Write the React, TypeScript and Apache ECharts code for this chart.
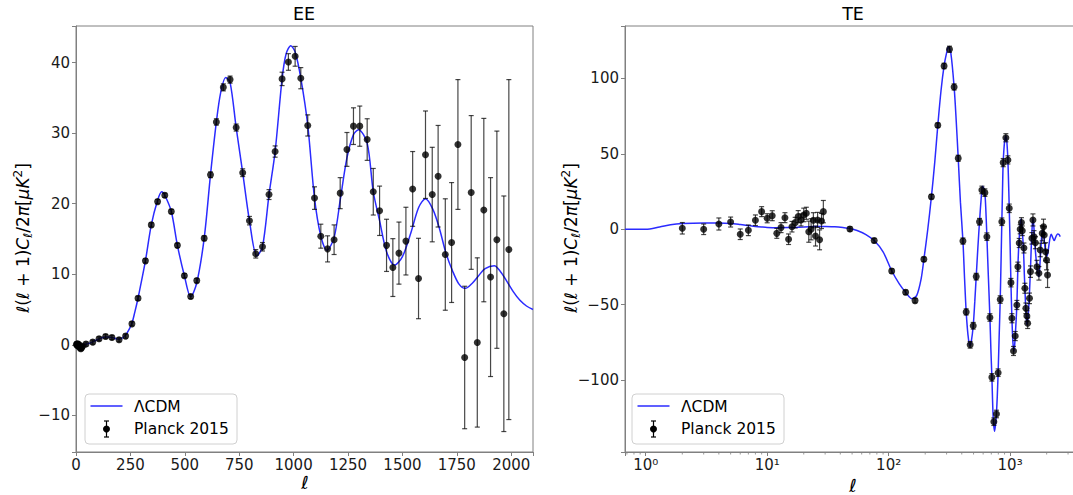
import { useEffect, useRef } from 'react';
import * as echarts from 'echarts';

const FONT = 'DejaVu Sans';
const AX = '#808080';
const CURVE = '#2b2bff';
const BAR = 'rgba(0,0,0,0.72)';

// ---------- EE panel ----------
const eeXMin = 0;
const eeXMax = 2100;
const eeXInterval = 250;
const eeYMin = -15.2;
const eeYMax = 45.2;

const eeCurveL = [2, 20, 50, 80, 110, 140, 165, 195, 215, 235, 256, 270, 285, 300, 319, 346, 375, 394, 408, 438, 466, 498, 527, 555, 589, 618, 645, 665, 688, 708, 736, 766, 797, 831, 857, 887, 915, 947, 965, 987, 1007, 1033, 1065, 1096, 1125, 1153, 1186, 1214, 1245, 1275, 1298, 1338, 1366, 1395, 1427, 1464, 1500, 1540, 1575, 1606, 1640, 1670, 1700, 1730, 1760, 1789, 1820, 1850, 1880, 1922, 1950, 1980, 2010, 2040, 2070, 2100];
const eeCurveV = [0.05, 0.02, 0.1, 0.45, 0.9, 1.1, 1.05, 0.8, 1.0, 1.7, 2.97, 4.6, 6.6, 8.9, 11.9, 17.0, 20.5, 21.7, 21.2, 18.9, 14.1, 9.8, 6.8, 8.8, 15.1, 24.1, 31.6, 35.8, 37.9, 37.2, 30.8, 24.4, 17.6, 12.6, 13.9, 21.3, 27.4, 37.7, 41.2, 42.4, 41.5, 37.8, 31.1, 20.8, 15.4, 13.4, 15.2, 20.5, 26.5, 29.8, 30.5, 28.6, 21.7, 17.6, 13.2, 11.3, 12.5, 16.0, 19.5, 20.7, 19.2, 16.5, 13.0, 10.5, 8.6, 8.0, 8.7, 9.8, 10.8, 11.2, 10.4, 9.0, 7.5, 6.3, 5.5, 5.0];

const eeDataL = [2, 4, 6, 8, 11, 14, 18, 22, 26, 30, 46, 77, 106, 136, 165, 198, 228, 257, 285, 319, 346, 375, 408, 438, 466, 498, 527, 555, 589, 618, 645, 677, 708, 736, 766, 797, 826, 857, 887, 915, 947, 976, 1007, 1033, 1065, 1096, 1125, 1156, 1186, 1214, 1245, 1275, 1304, 1338, 1366, 1395, 1427, 1456, 1484, 1516, 1547, 1574, 1606, 1637, 1664, 1697, 1726, 1755, 1786, 1816, 1844, 1874, 1905, 1934, 1966, 1989];
const eeDataV = [0.05, 0.1, -0.1, 0.15, -0.2, 0.0, -0.4, -0.55, -0.4, -0.2, 0.1, 0.38, 0.85, 1.18, 1.04, 0.71, 1.23, 2.97, 6.6, 11.9, 17.0, 20.3, 21.2, 18.9, 14.1, 9.8, 6.85, 9.1, 15.1, 24.1, 31.6, 36.5, 37.6, 30.8, 24.4, 17.6, 12.9, 13.9, 21.3, 27.4, 37.7, 40.1, 40.9, 37.8, 31.1, 20.8, 15.4, 13.6, 14.9, 21.5, 27.7, 31.0, 31.0, 29.1, 21.7, 19.0, 14.1, 10.95, 13.0, 14.7, 22.1, 9.4, 26.95, 21.3, 23.9, 12.8, 14.5, 28.4, -1.8, 21.6, 0.33, 19.1, 9.6, 14.9, 4.4, 13.5];
const eeDataErr = [0.3, 0.3, 0.3, 0.3, 0.3, 0.3, 0.3, 0.3, 0.3, 0.3, 0.3, 0.3, 0.3, 0.3, 0.3, 0.3, 0.3, 0.3, 0.3, 0.3, 0.3, 0.3, 0.3, 0.3, 0.3, 0.3, 0.3, 0.3, 0.35, 0.4, 0.45, 0.5, 0.5, 0.5, 0.55, 0.6, 0.6, 0.6, 0.7, 0.8, 0.95, 1.18, 1.4, 1.5, 1.5, 1.6, 1.7, 1.85, 2.1, 2.2, 2.4, 2.6, 2.85, 2.95, 3.3, 3.5, 3.7, 4.1, 4.4, 4.8, 5.3, 5.7, 6.2, 6.7, 7.2, 7.9, 8.5, 9.2, 10.1, 10.9, 12.0, 13.0, 14.1, 15.4, 16.7, 24.1];

// ---------- TE panel ----------
const teXMin = 0.675;
const teXMax = 3835;
const teYMin = -147.7;
const teYMax = 134.8;
const teMajorExp = ['⁰', '¹', '²', '³'];
const teMinorTicks = [0.7, 0.8, 0.9, 2, 3, 4, 5, 6, 7, 8, 9, 20, 30, 40, 50, 60, 70, 80, 90, 200, 300, 400, 500, 600, 700, 800, 900, 2000, 3000];

const teCurveL = [0.675, 1, 1.3, 1.6, 2, 3, 4, 5, 6, 7, 8, 9, 10, 12, 15, 20, 25, 30, 36, 42, 48, 55, 65, 76, 90, 106, 122, 138, 155, 170, 185, 195, 210, 225, 240, 254, 270, 286, 300, 311, 325, 346, 360, 374, 390, 409, 422, 435, 450, 466, 480, 497, 512, 526, 543, 560, 575, 593, 607, 620, 632, 644, 662, 682, 695, 708, 725, 744, 760, 772, 785, 797, 812, 829, 842, 855, 866, 877, 900, 923, 940, 959, 972, 984, 1000, 1016, 1035, 1055, 1075, 1090, 1102, 1120, 1137, 1159, 1175, 1195, 1215, 1232, 1250, 1270, 1290, 1310, 1324, 1349, 1375, 1400, 1425, 1444, 1472, 1490, 1512, 1540, 1565, 1600, 1630, 1663, 1700, 1727, 1750, 1770, 1800, 1830, 1860, 1890, 1920, 1958, 2010, 2050, 2100, 2140, 2181, 2230, 2309, 2380, 2460, 2530, 2587];
const teCurveV = [0, 0, 1.5, 3.0, 3.8, 4.2, 4.2, 3.9, 3.2, 2.5, 1.9, 1.5, 1.2, 1.0, 1.1, 1.5, 1.8, 1.9, 1.6, 1.1, 0.5, -0.8, -3.5, -7.5, -15, -27.5, -36, -41.8, -46, -44, -33, -20, 0, 21.6, 45, 69, 92, 108.3, 117, 121, 117, 94.4, 72, 47.1, 18, -7.8, -33, -54.8, -70, -77.5, -74, -64, -48, -31.4, -12, 5, 18, 28.5, 27, 24, 12, -5, -31, -58.6, -80, -98, -124, -134, -129, -122, -110, -95, -72, -47, -22, 5, 26, 44, 58, 62, 58, 46, 30, 14, -10, -35.4, -59, -75, -81, -77, -71, -61, -50, -25, -13, -3, 4, 6.8, 3, -5, -14, -30, -39, -55, -63.5, -60, -51, -42, -26, -14, -2, 7.3, 3, -10, -18, -25, -30, -31.4, -27, -20, -10, -3, -0.5, -3, -9, -15, -18, -15, -9, -5, -3.3, -5, -7.5, -5, -3.1, -3.5, -4.9];

const teDataL = [2, 3, 4, 5, 6, 7, 8, 9, 10, 11, 12, 13, 14, 15, 16, 17, 18, 19, 20, 21, 22, 23, 24, 25, 26, 27, 28, 29, 48, 76, 106, 138, 165, 195, 225, 254, 286, 317, 346, 374, 409, 435, 469, 497, 526, 560, 586, 620, 644, 682, 708, 735, 772, 797, 829, 855, 877, 923, 959, 984, 1016, 1035, 1067, 1102, 1137, 1159, 1189, 1211, 1240, 1260, 1300, 1324, 1349, 1375, 1395, 1444, 1472, 1512, 1542, 1573, 1615, 1663, 1727, 1770, 1838, 1884, 1910, 1958, 1996, 2034];
const teDataV = [0.66, 0.0, 3.5, 4.8, -3.3, -0.7, 6.0, 11.7, 7.3, 9.0, -2.7, 1.1, 7.7, -6.6, 1.7, 4.4, 8.4, 6.2, 9.5, 10.6, -1.6, 0.0, 6.0, -4.5, 6.2, -7.0, 5.5, 11.7, 0.2, -7.5, -27.7, -41.8, -47.3, -19.9, 21.6, 69.0, 108.3, 119.4, 94.4, 47.1, -7.8, -54.8, -76.6, -64.0, -31.4, 5.0, 26.1, 24.3, -4.9, -58.5, -98.2, -127.6, -122.5, -95.1, -46.6, 5.0, 44.2, 60.7, 46.0, 13.9, -35.4, -59.0, -80.7, -70.8, -50.2, -24.8, -9.1, 0.0, 4.5, -1.0, -12.4, -39.1, -52.4, -57.5, -62.3, -45.8, -28.1, -6.0, 6.2, -4.9, -8.9, -24.8, -29.2, -13.7, -2.7, 1.7, -3.8, -14.9, -20.4, -30.3];
const teDataErr = [3.8, 3.5, 4.0, 3.3, 3.5, 3.5, 3.5, 3.3, 3.0, 3.3, 3.3, 3.3, 3.3, 3.5, 3.5, 3.5, 4.0, 4.0, 4.5, 4.0, 7.0, 7.0, 5.0, 6.6, 5.0, 6.6, 5.0, 7.4, 1.5, 1.5, 1.5, 1.5, 1.5, 1.5, 1.5, 1.5, 1.8, 2.0, 2.0, 2.0, 2.0, 2.0, 2.2, 2.2, 2.2, 2.2, 2.5, 2.5, 2.5, 2.5, 2.5, 2.5, 2.5, 2.5, 2.5, 2.5, 2.7, 2.7, 2.7, 2.8, 2.8, 3.0, 3.0, 3.0, 3.0, 3.0, 3.0, 3.0, 3.2, 3.2, 3.3, 3.3, 3.5, 3.5, 3.5, 3.5, 3.8, 3.8, 4.0, 4.0, 4.0, 4.2, 4.5, 4.5, 5.0, 5.0, 5.5, 6.0, 6.5, 8.3];

const zip = (a: number[], b: number[]) => a.map((x, i) => [x, b[i]]);
const zip3 = (a: number[], b: number[], c: number[]) => a.map((x, i) => [x, b[i], c[i]]);

const errorBarRender = (_p: any, api: any) => {
  const x = api.value(0);
  const v = api.value(1);
  const e = api.value(2);
  const t = api.coord([x, v + e]);
  const b = api.coord([x, v - e]);
  const c = 2.5;
  const st = { stroke: BAR, lineWidth: 1.2 };
  return {
    type: 'group',
    children: [
      { type: 'line', shape: { x1: t[0], y1: t[1], x2: b[0], y2: b[1] }, style: st },
      { type: 'line', shape: { x1: t[0] - c, y1: t[1], x2: t[0] + c, y2: t[1] }, style: st },
      { type: 'line', shape: { x1: b[0] - c, y1: b[1], x2: b[0] + c, y2: b[1] }, style: st },
    ],
  };
};

const minus = (v: number) => (v < 0 ? '\u2212' + Math.abs(v) : String(v));
const isMult = (v: number, m: number) => Math.abs(v / m - Math.round(v / m)) < 1e-6;

const tickLabel = { color: '#1a1a1a', fontSize: 15, fontFamily: FONT, margin: 6 };
const xTickLabel = { ...tickLabel, lineHeight: 15, margin: 5 };
const axisCommon = {
  axisLine: { show: true, onZero: false, lineStyle: { color: AX, width: 1 } },
  axisTick: { show: true, length: 4, lineStyle: { color: AX, width: 1 } },
  splitLine: { show: false },
};

const ylabelRich = {
  i: { fontFamily: FONT, fontStyle: 'italic', fontSize: 17, lineHeight: 22, fill: '#000' },
  n: { fontFamily: FONT, fontSize: 17, lineHeight: 22, fill: '#000' },
  s: { fontFamily: FONT, fontStyle: 'italic', fontSize: 12, lineHeight: 12, verticalAlign: 'bottom', fill: '#000' },
  p: { fontFamily: FONT, fontSize: 12, lineHeight: 12, verticalAlign: 'top', fill: '#000' },
};
const ylabelText = '{i|ℓ}{n|(}{i|ℓ}{n| + 1)}{i|C}{s|ℓ}{n|/2}{i|π}{n|[}{i|μK}{p|2}{n|]}';

const legend = (left: number, top: number) => {
  const lx = left + 5.5;
  const mx = lx + 16;
  const tx = left + 49;
  const st = { stroke: '#000', lineWidth: 1.2 };
  return {
    type: 'group',
    children: [
      { type: 'rect', shape: { x: left, y: top, width: 152, height: 50, r: 4 }, style: { fill: 'rgba(255,255,255,0.85)', stroke: '#d0d0d0', lineWidth: 1 } },
      { type: 'line', shape: { x1: lx, y1: top + 12, x2: lx + 32, y2: top + 12 }, style: { stroke: CURVE, lineWidth: 1.5 } },
      { type: 'text', x: tx, y: top + 13, style: { text: 'ΛCDM', fontFamily: FONT, fontSize: 15.5, fill: '#000', verticalAlign: 'middle' } },
      { type: 'line', shape: { x1: mx, y1: top + 27, x2: mx, y2: top + 43 }, style: st },
      { type: 'line', shape: { x1: mx - 2.5, y1: top + 27, x2: mx + 2.5, y2: top + 27 }, style: st },
      { type: 'line', shape: { x1: mx - 2.5, y1: top + 43, x2: mx + 2.5, y2: top + 43 }, style: st },
      { type: 'circle', shape: { cx: mx, cy: top + 35, r: 3.5 }, style: { fill: '#000' } },
      { type: 'text', x: tx, y: top + 35, style: { text: 'Planck 2015', fontFamily: FONT, fontSize: 15.5, fill: '#000', verticalAlign: 'middle' } },
    ],
  };
};

const option: any = {
  animation: false,
  backgroundColor: '#fff',
  textStyle: { fontFamily: FONT },
  grid: [
    { left: 76, top: 26, width: 457, height: 426, show: true, borderColor: AX, borderWidth: 1, containLabel: false, outerBoundsMode: 'none' },
    { left: 625, top: 26, width: 456, height: 426, show: true, borderColor: AX, borderWidth: 1, containLabel: false, outerBoundsMode: 'none' },
  ],
  xAxis: [
    {
      type: 'value', gridIndex: 0, min: eeXMin, max: eeXMax, interval: eeXInterval, ...axisCommon,
      axisLabel: { ...xTickLabel, formatter: (v: number) => (isMult(v, eeXInterval) ? String(v) : '') },
    },
    {
      type: 'log', logBase: 10, gridIndex: 1, min: teXMin, max: teXMax, ...axisCommon,
      axisLabel: {
        ...xTickLabel,
        formatter: (v: number) => {
          const e = Math.log10(v);
          const r = Math.round(e);
          if (Math.abs(e - r) > 1e-6 || r < 0 || r >= teMajorExp.length) return '';
          return '10' + teMajorExp[r];
        },
      },
    },
  ],
  yAxis: [
    {
      type: 'value', gridIndex: 0, min: eeYMin, max: eeYMax, ...axisCommon,
      axisLabel: { ...tickLabel, formatter: (v: number) => (isMult(v, 10) ? minus(Math.round(v)) : '') },
    },
    {
      type: 'value', gridIndex: 1, min: teYMin, max: teYMax, ...axisCommon,
      axisLabel: { ...tickLabel, formatter: (v: number) => (isMult(v, 50) ? minus(Math.round(v)) : '') },
    },
  ],
  series: [
    { type: 'line', xAxisIndex: 0, yAxisIndex: 0, data: zip(eeCurveL, eeCurveV), showSymbol: false, smooth: 0.3, lineStyle: { color: CURVE, width: 1.5 }, z: 2, silent: true },
    { type: 'custom', xAxisIndex: 0, yAxisIndex: 0, data: zip3(eeDataL, eeDataV, eeDataErr), renderItem: errorBarRender, encode: { x: 0, y: 1 }, z: 3, silent: true },
    { type: 'scatter', xAxisIndex: 0, yAxisIndex: 0, data: zip(eeDataL, eeDataV), symbol: 'circle', symbolSize: 7, itemStyle: { color: '#000' }, z: 4, silent: true },
    { type: 'line', xAxisIndex: 1, yAxisIndex: 1, data: zip(teCurveL, teCurveV), showSymbol: false, smooth: 0.3, lineStyle: { color: CURVE, width: 1.5 }, z: 2, silent: true },
    { type: 'custom', xAxisIndex: 1, yAxisIndex: 1, data: zip3(teDataL, teDataV, teDataErr), renderItem: errorBarRender, encode: { x: 0, y: 1 }, z: 3, silent: true },
    { type: 'scatter', xAxisIndex: 1, yAxisIndex: 1, data: zip(teDataL, teDataV), symbol: 'circle', symbolSize: 7, itemStyle: { color: '#000' }, z: 4, silent: true },
    {
      type: 'custom', xAxisIndex: 1, yAxisIndex: 1, clip: false, silent: true, z: 5,
      data: teMinorTicks.map((v) => [v, teYMin]), encode: { x: 0, y: 1 },
      renderItem: (_p: any, api: any) => {
        const c = api.coord([api.value(0), api.value(1)]);
        return { type: 'line', shape: { x1: c[0], y1: c[1], x2: c[0], y2: c[1] + 2.5 }, style: { stroke: AX, lineWidth: 0.8 } };
      },
    },
  ],
  graphic: [
    { type: 'text', x: 304, y: 14, style: { text: 'EE', fontFamily: FONT, fontSize: 17.5, fill: '#000', align: 'center', verticalAlign: 'middle' } },
    { type: 'text', x: 853, y: 14, style: { text: 'TE', fontFamily: FONT, fontSize: 17.5, fill: '#000', align: 'center', verticalAlign: 'middle' } },
    { type: 'text', x: 23, y: 238, rotation: Math.PI / 2, style: { text: ylabelText, rich: ylabelRich, align: 'center', verticalAlign: 'middle' } },
    { type: 'text', x: 571, y: 238, rotation: Math.PI / 2, style: { text: ylabelText, rich: ylabelRich, align: 'center', verticalAlign: 'middle' } },
    { type: 'text', x: 305, y: 482.5, style: { text: 'ℓ', fontFamily: FONT, fontStyle: 'italic', fontSize: 18, lineHeight: 16, fill: '#000', align: 'center', verticalAlign: 'middle' } },
    { type: 'text', x: 853, y: 485.5, style: { text: 'ℓ', fontFamily: FONT, fontStyle: 'italic', fontSize: 18, lineHeight: 16, fill: '#000', align: 'center', verticalAlign: 'middle' } },
    legend(85, 394),
    legend(632, 394),
  ],
};

export default function App() {
  const ref = useRef<HTMLDivElement>(null);
  useEffect(() => {
    const chart = echarts.init(ref.current!, null, { renderer: 'svg' });
    chart.setOption(option);
    return () => chart.dispose();
  }, []);
  return <div ref={ref} style={{ position: 'absolute', left: 0, top: 0, width: 1073, height: 495, background: '#fff' }} />;
}
